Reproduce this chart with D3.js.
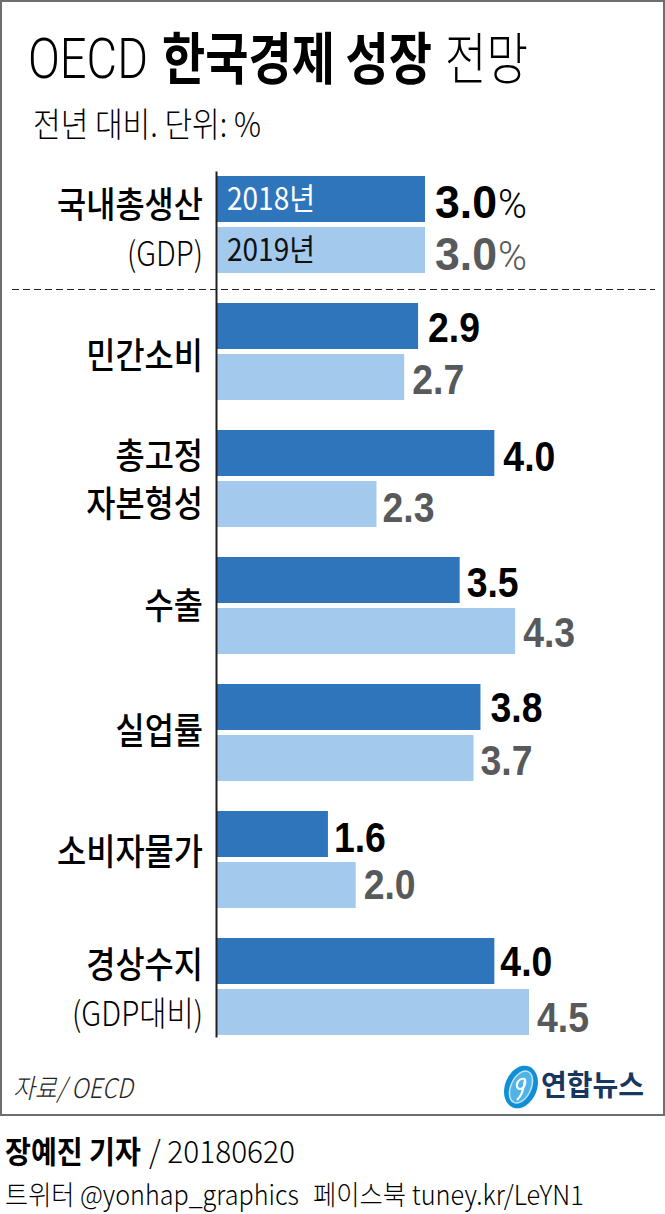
<!DOCTYPE html>
<html>
<head>
<meta charset="utf-8">
<script src="https://cdn.jsdelivr.net/npm/d3@7"></script>
<style>
html, body { margin: 0; padding: 0; background: #fff; }
svg { display: block; }
text { font-family: "Noto Sans CJK KR", sans-serif; }
.num { font-family: "Liberation Sans", Arial, sans-serif; }
.thin { font-family: Roboto, sans-serif; }
</style>
</head>
<body>
<svg id="chart" width="665" height="1214"></svg>
<script>
// values
const categories = ["국내총생산", "민간소비", "총고정자본형성", "수출", "실업률", "소비자물가", "경상수지"];
const labelLines = [["국내총생산", "(GDP)"], ["민간소비"], ["총고정", "자본형성"], ["수출"], ["실업률"], ["소비자물가"], ["경상수지", "(GDP대비)"]];
const seriesNames = ["2018년", "2019년"];
const values2018 = [3.0, 2.9, 4.0, 3.5, 3.8, 1.6, 4.0];
const values2019 = [3.0, 2.7, 2.3, 4.3, 3.7, 2.0, 4.5];
const seriesColors = ["#2e75bb", "#a3caec"];
const valueColors = ["#000", "#58595b"];

// hand placed nudges, the labels in the original are not on a strict grid
const labelNudge = [0, 0, -3, -4, -6, -12, -2];
const valueDx = [[10, 10], [10, 8], [9, 6], [7, 8], [10, 7], [6, 8], [6, 8]];
const valueBase = [[42, 43], [39, 40], [41, 41], [40, 39], [38, 40], [41, 37], [38, 43]];

const svg = d3.select("#chart");

const x = d3.scaleLinear().domain([0, 4.5]).range([217, 529]);
const y = d3.scaleBand().domain(categories).range([176, 1035]).paddingInner(30 / 127);
const inner = d3.scaleBand().domain(seriesNames).range([0, y.bandwidth()]).paddingInner(5 / 51);

// squeezes a text sideways to a given width, the original face is a condensed gothic
function fit(sel, width) {
    sel.each(function () {
        const t = d3.select(this);
        const s = width / this.getComputedTextLength();
        t.attr("transform", `translate(${t.attr("x")},${t.attr("y")}) scale(${s},1)`)
            .attr("x", null).attr("y", null);
    });
    return sel;
}

function put(str, px, py, size, width, opts = {}) {
    const t = svg.append("text")
        .attr("x", px).attr("y", py)
        .attr("font-size", size)
        .attr("font-weight", opts.weight || 400)
        .attr("font-style", opts.italic ? "italic" : null)
        .attr("fill", opts.fill || "#000")
        .attr("text-anchor", opts.anchor || "start")
        .attr("class", opts.cls || null)
        .text(str);
    return fit(t, width);
}

// frame
svg.append("rect").attr("x", 1).attr("y", 1).attr("width", 663).attr("height", 1114)
    .attr("fill", "#fff").attr("stroke", "#6d6e70").attr("stroke-width", 2);

// title
put("OECD", 28, 78, 56, 120, {weight: 300, cls: "thin"});
put("한국경제 성장", 162, 79, 56, 270, {weight: 700});
put("전망", 445, 79, 56, 83, {weight: 300});
put("전년 대비. 단위: %", 33, 137, 34, 228, {weight: 300});

// bars
const groups = svg.append("g").selectAll("g")
    .data(categories)
    .join("g")
    .attr("transform", d => `translate(0,${y(d)})`);

groups.each(function (c, i) {
    const g = d3.select(this);
    const rows = [values2018[i], values2019[i]];
    g.selectAll("rect")
        .data(rows)
        .join("rect")
        .attr("x", x(0))
        .attr("y", (d, j) => inner(seriesNames[j]))
        .attr("width", d => x(d) - x(0))
        .attr("height", inner.bandwidth())
        .attr("fill", (d, j) => seriesColors[j]);

    g.selectAll("text.value")
        .data(rows)
        .join("text")
        .attr("class", "value num")
        .attr("x", (d, j) => x(d) + valueDx[i][j])
        .attr("y", (d, j) => inner(seriesNames[j]) + valueBase[i][j])
        .attr("font-size", i === 0 ? 46 : 42)
        .attr("font-weight", 700)
        .attr("fill", (d, j) => valueColors[j])
        .text(d => d.toFixed(1))
        .call(fit, i === 0 ? 62 : 52);
});

// percent signs and year names on the first group only
seriesNames.forEach((s, j) => {
    put("%", x(values2018[0]) + 73, y(categories[0]) + inner(s) + valueBase[0][j], 40, 29,
        {weight: 300, cls: "thin", fill: valueColors[j]});
    put(s, x(0) + 10, y(categories[0]) + inner(s) + 34, 31, 88, {fill: j === 0 ? "#fff" : "#111"});
});

// category labels
categories.forEach((c, i) => {
    const lines = labelLines[i];
    const cy = y(c) + y.bandwidth() / 2 + 4 + labelNudge[i];
    lines.forEach((line, k) => {
        const base = cy + (k - (lines.length - 1) / 2) * 48 + 13;
        const isParen = line.startsWith("(");
        put(line, 203, base, isParen ? 34 : 36,
            isParen ? (line === "(GDP)" ? 76 : 131) : line.length * 29.2,
            {anchor: "end", weight: isParen ? 300 : 500});
    });
});

// axis line and dashed divider
const axis = d3.axisLeft(d3.scaleLinear().domain([0, 1]).range([171, 1037])).ticks(0).tickSize(0);
svg.append("g").attr("transform", `translate(${x(0) - 1},0)`).call(axis)
    .select(".domain").attr("stroke", "#231f20").attr("stroke-width", 2);
svg.append("line").attr("x1", 12).attr("x2", 655).attr("y1", 289.5).attr("y2", 289.5)
    .attr("stroke", "#222").attr("stroke-width", 1).attr("stroke-dasharray", "7 4");

// source
put("자료/ OECD", 13, 1098, 27, 120, {weight: 300, italic: true, fill: "#222"});

// logo
const logo = svg.append("g").attr("transform", "translate(521,1087)");
logo.append("ellipse").attr("rx", 16).attr("ry", 22).attr("transform", "rotate(22)").attr("fill", "#0f8fd6");
logo.append("ellipse").attr("rx", 10).attr("ry", 17).attr("transform", "rotate(25)")
    .attr("fill", "#4fb3e8").attr("stroke", "#bfe3f7").attr("stroke-width", 1.5);
logo.append("path").attr("d", "M4,-8 C-4,-10 -7,2 -1,2 C3,2 5,-3 4,-8 C3,1 1,9 -4,13")
    .attr("fill", "none").attr("stroke", "#fff").attr("stroke-width", 2.2);
put("연합뉴스", 541, 1096, 29, 103, {weight: 700, fill: "#17375e"});

// footer, last line kept small enough to stay inside the page
put("장예진 기자", 5, 1163, 31, 136, {weight: 700});
put("/ 20180620", 149, 1163, 31, 146, {weight: 300});
put("트위터 @yonhap_graphics", 5, 1205, 27, 294, {weight: 300});
put("페이스북 tuney.kr/LeYN1", 313, 1205, 27, 271, {weight: 300});
</script>
</body>
</html>
